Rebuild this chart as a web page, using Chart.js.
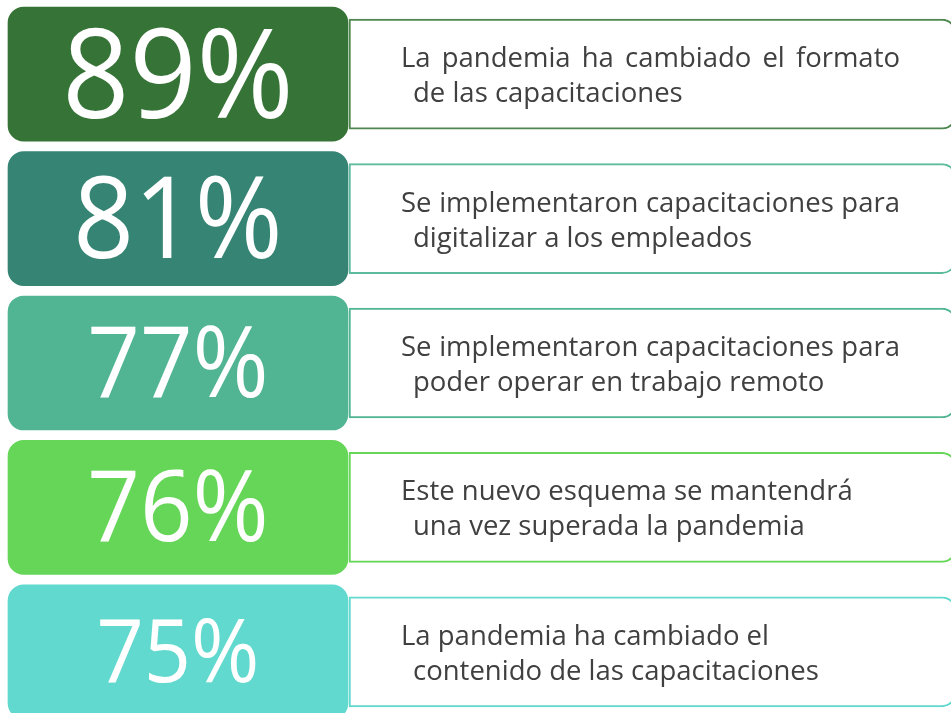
<!DOCTYPE html>
<html>
<head>
<meta charset="utf-8">
<script src="https://cdn.jsdelivr.net/npm/chart.js@4"></script>
<style>
  html, body { margin: 0; padding: 0; background: #ffffff; overflow: hidden; }
  #wrap { position: absolute; left: 0; top: 2px; width: 960px; height: 722px; }
  canvas { display: block; }
</style>
</head>
<body>
<div id="wrap"><canvas id="c" width="960" height="722"></canvas></div>
<script>
// ---- data ----
const categories = ['89%', '81%', '77%', '76%', '75%'];
const percentages = [89, 81, 77, 76, 75];
const descriptionLine1 = [
  'La pandemia ha cambiado el formato',
  'Se implementaron capacitaciones para',
  'Se implementaron capacitaciones para',
  'Este nuevo esquema se mantendrá',
  'La pandemia ha cambiado el'
];
const descriptionLine2 = [
  'de las capacitaciones',
  'digitalizar a los empleados',
  'poder operar en trabajo remoto',
  'una vez superada la pandemia',
  'contenido de las capacitaciones'
];

// ---- styles / layout ----
const cardColors   = ['#367336', '#368474', '#51B594', '#66D658', '#62D9CE'];
const borderColors = ['#4E874F', '#5CBB9C', '#52B595', '#66D658', '#62D9CE'];
const numberFontSizes = [125, 113, 98, 98, 88];
const justifyLine1 = [true, true, true, false, false];
const CARD_SPAN = [8, 348];     // layout units on the hidden x scale
const BOX_SPAN  = [349, 956];
const TEXT_FONT = '"Open Sans", "Noto Sans", sans-serif';
const TEXT_SIZE = 27.5;
const JUSTIFY_WIDTH = 499;
const NUMBER_SQUEEZE = 0.94;

function drawJustified(ctx, text, x, y, width) {
  const words = text.split(' ');
  const wordsWidth = words.reduce((s, w) => s + ctx.measureText(w).width, 0);
  const gap = (width - wordsWidth) / (words.length - 1);
  let cx = x;
  words.forEach(w => { ctx.fillText(w, cx, y); cx += ctx.measureText(w).width + gap; });
}

const cardText = {
  id: 'cardText',
  afterDatasetsDraw(chart) {
    const ctx = chart.ctx;
    const cards = chart.getDatasetMeta(0).data;
    const boxes = chart.getDatasetMeta(1).data;
    ctx.save();
    cards.forEach((bar, i) => {
      const l = Math.min(bar.x, bar.base), r = Math.max(bar.x, bar.base);
      const size = numberFontSizes[i];
      ctx.save();
      ctx.translate((l + r) / 2, bar.y + size * 0.357 - 1);
      ctx.scale(NUMBER_SQUEEZE, 1);
      ctx.font = '400 ' + size + 'px ' + TEXT_FONT;
      ctx.fillStyle = '#ffffff';
      ctx.textAlign = 'center';
      ctx.textBaseline = 'alphabetic';
      ctx.fillText(percentages[i] + '%', 0, 0);
      ctx.restore();
    });
    boxes.forEach((bar, i) => {
      const l = Math.min(bar.x, bar.base);
      ctx.font = '400 ' + TEXT_SIZE + 'px ' + TEXT_FONT;
      ctx.fillStyle = '#404040';
      ctx.textAlign = 'left';
      ctx.textBaseline = 'alphabetic';
      if (justifyLine1[i]) {
        drawJustified(ctx, descriptionLine1[i], l + 52, bar.y - 7, JUSTIFY_WIDTH);
      } else {
        ctx.fillText(descriptionLine1[i], l + 52, bar.y - 7);
      }
      ctx.fillText(descriptionLine2[i], l + 64, bar.y + 28);
    });
    ctx.restore();
  }
};

function draw() {
  new Chart(document.getElementById('c'), {
    type: 'bar',
    data: {
      labels: categories,
      datasets: [
        {
          label: 'cards',
          data: categories.map(() => CARD_SPAN),
          backgroundColor: cardColors,
          borderWidth: 0,
          borderRadius: 16,
          borderSkipped: false,
          barThickness: 134,
          grouped: false
        },
        {
          label: 'boxes',
          data: categories.map(() => BOX_SPAN),
          backgroundColor: '#ffffff',
          borderColor: borderColors,
          borderWidth: 2,
          borderRadius: { topLeft: 0, bottomLeft: 0, topRight: 14, bottomRight: 14 },
          borderSkipped: false,
          barThickness: 110,
          grouped: false
        }
      ]
    },
    options: {
      indexAxis: 'y',
      responsive: false,
      devicePixelRatio: 1,
      animation: false,
      layout: { padding: 0 },
      plugins: { legend: { display: false }, tooltip: { enabled: false }, title: { display: false } },
      scales: {
        x: { type: 'linear', min: 0, max: 960, display: false },
        y: { type: 'category', display: false, offset: true }
      }
    },
    plugins: [cardText]
  });
}

if (document.fonts && document.fonts.load) {
  Promise.all([
    document.fonts.load('400 27px "Open Sans"'),
    document.fonts.load('400 120px "Open Sans"')
  ]).then(draw, draw);
} else {
  draw();
}
</script>
</body>
</html>
